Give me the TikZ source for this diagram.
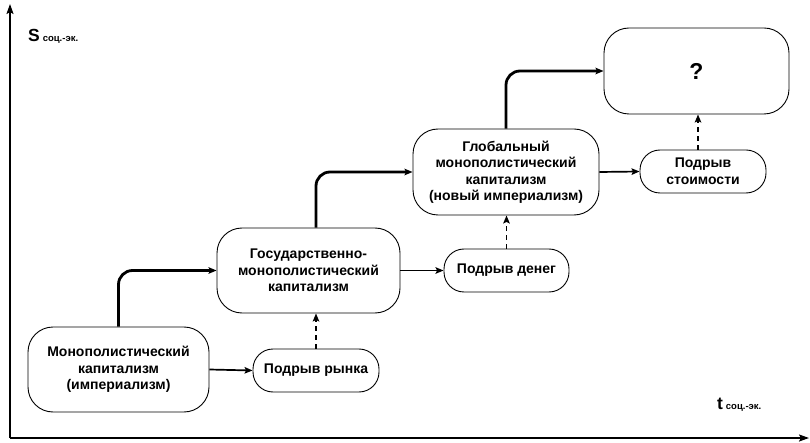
\documentclass[tikz,border=0pt]{standalone}
\usepackage{fontspec}
\setmainfont{Liberation Sans}
\usetikzlibrary{arrows.meta}
\begin{document}
\begin{tikzpicture}[x=1pt,y=-1pt,
  bigbox/.style={draw, line width=0.9pt, rounded corners=25pt, align=center, inner sep=0pt,
    font=\fontsize{14}{16.5}\selectfont\bfseries},
  smallbox/.style={draw, line width=0.9pt, rounded corners=20pt, align=center, inner sep=0pt,
    font=\fontsize{14}{16.5}\selectfont\bfseries},
  tip/.style={-{Stealth[length=8pt,width=6.5pt,inset=1.5pt]}},
  mainarr/.style={tip, line width=2.8pt, rounded corners=14pt},
  sidearr/.style={tip, line width=1.7pt},
  dasharr/.style={tip, line width=1.7pt, dash pattern=on 5pt off 4pt},
  axis/.style={-{Stealth[length=10pt,width=7pt,inset=2pt]}, line width=1.8pt},
  lbl/.style={inner sep=0pt, anchor=base west}
]
\useasboundingbox (0,0) rectangle (810,443);

% axes
\coordinate (O) at (10,438);
\coordinate (Ytop) at (10,4);
\coordinate (Xend) at (809,438);
\draw[axis] (O) -- (Ytop);
\draw[axis] (O) -- (Xend);

\node[lbl] (sl) at (28,42) {\fontsize{17.5}{17}\selectfont\bfseries S\,\fontsize{9.5}{10}\selectfont соц.-эк.};
\node[lbl] (tl) at (717,409) {\fontsize{17.5}{17}\selectfont\bfseries t\,\fontsize{9.5}{10}\selectfont соц.-эк.};

% boxes
\node[bigbox, minimum width=181pt, minimum height=85pt] (b1) at (118.5,369.5)
  {Монополистический\\капитализм\\(империализм)};
\node[smallbox, minimum width=126pt, minimum height=43pt] (r) at (316,370.5) {Подрыв рынка};
\node[bigbox, minimum width=183pt, minimum height=85pt] (b2) at (308.5,270.5)
  {Государственно-\\монополистический\\капитализм};
\node[smallbox, minimum width=125pt, minimum height=43pt] (d) at (506.5,270.5) {Подрыв денег};
\node[bigbox, minimum width=186pt, minimum height=86pt] (b3) at (506,172)
  {Глобальный\\монополистический\\капитализм\\(новый империализм)};
\node[smallbox, minimum width=126pt, minimum height=43pt] (s) at (703,171.5) {Подрыв\\стоимости};
\node[bigbox, minimum width=185pt, minimum height=86pt] (q) at (696.5,71)
  {\fontsize{23}{23}\selectfont ?};

% main progression
\draw[mainarr] (b1.north) |- (b2.west);
\draw[mainarr] (b2.north -| r.north) |- (b3.west);
\draw[mainarr] (b3.north) |- (q.west);

% side arrows
\draw[sidearr] (b1.east) -- (r.west);
\draw[sidearr] (b2.east) -- (d.west);
\draw[sidearr] (b3.east) -- (s.west);

% dashed arrows
\draw[dasharr] (r.north) -- (b2.south -| r.north);
\draw[dasharr] (d.north) -- (b3.south -| d.north);
\draw[dasharr] (s.north -| q.south) ++(1.5,0) coordinate (sq) (sq) -- (sq |- q.south);
\end{tikzpicture}
\end{document}
